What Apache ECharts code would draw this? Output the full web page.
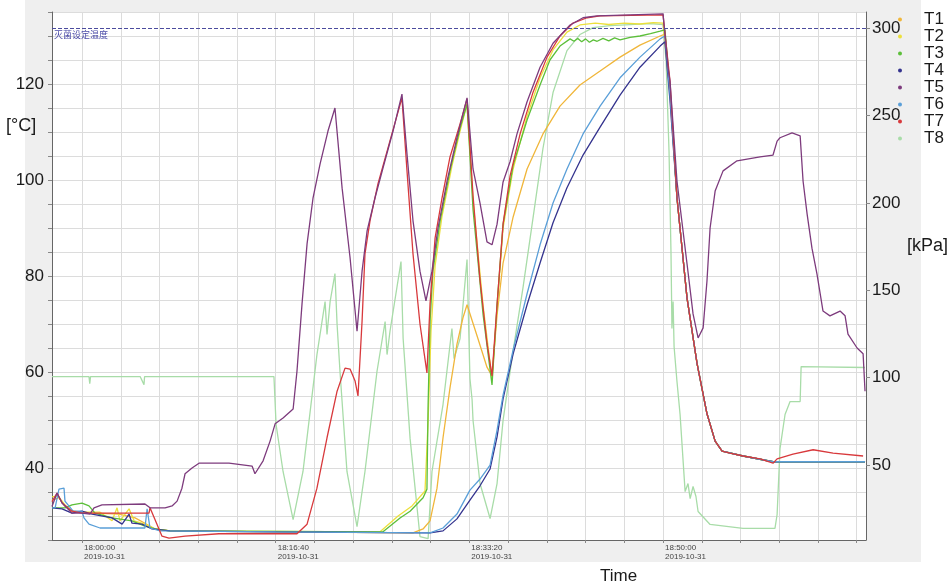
<!DOCTYPE html>
<html><head><meta charset="utf-8">
<script src="https://cdn.jsdelivr.net/npm/echarts@6/dist/echarts.min.js"></script>
<style>html,body{margin:0;padding:0;background:#fff}#c{width:950px;height:586px}</style>
</head><body><div id="c"></div>
<script>
// time in seconds after 18:00:00 on 2019-10-31
const seriesNames = ['T1','T2','T3','T4','T5','T6','T7','T8'];
const setpointTemp = 131.7;
const setpointLabel = '灭菌设定温度';
const dateLabel = '2019-10-31';

const T1 = [[-155,33.3],[-119,33.8],[-88,32.0],[-52,31.0],[0,30.8],[67,30.6],[191,30.4],[274,29.6],[325,28.5],[377,27.3],[454,26.9],[1000,26.7],[1709,26.5],[1761,27.3],[1797,29.0],[1833,35.8],[1864,46.3],[1900,56.7],[1936,65.8],[1967,71.3],[1988,74.0],[2040,67.5],[2091,61.0],[2117,59.2],[2143,71.9],[2174,82.7],[2226,92.3],[2298,102.3],[2380,109.6],[2468,115.4],[2571,119.8],[2675,122.7],[2778,125.6],[2881,128.1],[2985,130.0],[3010,130.4],[3036,118.5],[3072,96.3],[3124,75.4],[3176,61.7],[3227,51.3],[3269,45.6],[3305,43.5],[3413,42.5],[3568,41.3],[4043,41.3]];
const T2 = [[-155,34.0],[-124,34.2],[-88,32.3],[-52,31.0],[0,30.8],[93,30.8],[155,29.0],[181,31.7],[196,29.0],[243,31.5],[269,29.0],[325,28.3],[377,27.3],[454,26.9],[1539,26.7],[1632,30.0],[1704,32.1],[1771,35.2],[1787,49.8],[1802,68.5],[1823,82.1],[1859,92.5],[1910,102.9],[1952,110.2],[1988,115.8],[2019,95.6],[2071,73.8],[2117,58.5],[2143,73.3],[2174,90.0],[2226,102.3],[2298,113.3],[2365,121.3],[2432,127.1],[2504,130.8],[2571,132.3],[2650,132.7],[2720,132.4],[2800,132.7],[2880,132.5],[2950,132.8],[3000,132.7],[3010,132.6],[3036,119.0],[3072,96.3],[3124,75.4],[3176,61.7],[3227,51.3],[3269,45.6],[3305,43.5],[3413,42.5],[3568,41.3],[4043,41.3]];
const T3 = [[-155,31.7],[-88,31.7],[-52,32.3],[0,32.7],[36,32.1],[67,30.6],[155,29.6],[258,29.0],[325,27.9],[377,27.3],[454,26.9],[1554,26.7],[1642,29.6],[1694,31.0],[1761,33.8],[1781,35.6],[1787,53.3],[1797,70.6],[1812,81.0],[1849,91.5],[1900,101.9],[1952,110.8],[1988,115.8],[2019,93.8],[2071,71.9],[2117,57.3],[2143,74.0],[2174,90.8],[2226,103.1],[2298,112.5],[2365,119.8],[2416,125.0],[2468,127.9],[2520,129.4],[2540,128.9],[2560,129.5],[2580,128.8],[2600,129.4],[2620,128.7],[2640,129.2],[2660,128.9],[2690,129.5],[2720,129.0],[2750,129.6],[2778,129.2],[2830,129.7],[2881,130.0],[2935,130.5],[2985,131.0],[3010,131.3],[3036,119.0],[3072,96.3],[3124,75.4],[3176,61.7],[3227,51.3],[3269,45.6],[3305,43.5],[3413,42.5],[3568,41.3],[4043,41.3]];
const T4 = [[-155,31.7],[-103,31.5],[-52,30.6],[0,31.0],[52,30.4],[155,29.6],[207,28.3],[243,30.4],[258,28.5],[310,28.3],[361,27.3],[454,26.9],[1000,26.7],[1797,26.5],[1864,26.9],[1936,29.4],[2003,33.3],[2055,36.3],[2107,39.8],[2143,46.5],[2174,54.4],[2226,63.8],[2298,74.0],[2365,82.7],[2432,91.1],[2504,98.4],[2587,105.2],[2675,111.0],[2778,117.7],[2881,123.5],[2985,127.9],[3010,128.8],[3036,116.5],[3072,96.3],[3124,75.4],[3176,61.7],[3227,51.3],[3269,45.6],[3305,43.5],[3413,42.5],[3568,41.3],[4043,41.3]];
const T5 = [[-155,32.0],[-129,34.8],[-103,32.7],[-52,30.6],[0,30.6],[41,30.4],[62,31.7],[103,32.3],[325,32.5],[351,31.7],[429,31.7],[465,32.1],[491,33.1],[516,35.8],[532,38.8],[568,40.0],[604,41.0],[759,41.0],[878,40.4],[893,38.8],[935,41.5],[971,45.6],[997,49.2],[1038,50.4],[1090,52.3],[1110,60.2],[1136,74.2],[1162,86.7],[1193,96.3],[1229,103.3],[1270,110.2],[1306,115.0],[1343,98.3],[1384,83.8],[1420,68.5],[1446,81.0],[1472,89.4],[1513,96.3],[1554,102.5],[1606,110.2],[1652,117.9],[1678,105.4],[1709,91.5],[1745,81.0],[1776,74.8],[1807,81.0],[1838,90.0],[1885,99.8],[1936,108.8],[1988,117.1],[2019,102.3],[2055,95.2],[2091,87.1],[2117,86.5],[2143,90.8],[2174,99.6],[2210,103.8],[2246,109.6],[2298,116.3],[2365,123.5],[2432,128.5],[2520,132.3],[2587,133.8],[2659,134.2],[2830,134.4],[3000,134.6],[3010,134.6],[3026,123.3],[3036,120.6],[3072,99.8],[3124,82.5],[3155,72.1],[3181,67.1],[3207,69.2],[3227,79.0],[3243,90.0],[3269,97.7],[3310,101.9],[3382,104.0],[3501,104.8],[3568,105.2],[3589,108.1],[3604,108.8],[3666,109.8],[3708,109.2],[3723,99.8],[3744,92.9],[3769,85.8],[3795,80.4],[3826,72.7],[3862,71.7],[3914,72.7],[3940,71.7],[3955,67.9],[4002,65.0],[4033,63.8],[4043,56.0]];
const T6 = [[-155,31.7],[-139,31.7],[-119,35.6],[-93,35.8],[-88,33.1],[-46,31.0],[0,31.0],[10,29.6],[36,28.3],[93,27.5],[325,27.5],[336,31.5],[351,27.5],[403,26.9],[1000,26.7],[1797,26.5],[1864,27.5],[1936,30.4],[2003,35.4],[2055,37.7],[2107,40.6],[2143,47.9],[2174,55.2],[2226,64.6],[2298,76.3],[2365,86.5],[2432,95.2],[2504,102.3],[2587,109.6],[2675,115.4],[2778,121.3],[2881,125.6],[2985,129.4],[3010,130.0],[3036,118.0],[3072,96.3],[3124,75.4],[3176,61.7],[3227,51.3],[3269,45.6],[3305,43.5],[3413,42.5],[3568,41.3],[4043,41.3]];
const T7 = [[-155,33.0],[-129,34.8],[-103,32.7],[-52,31.0],[0,30.6],[346,30.6],[351,31.7],[361,31.5],[387,28.3],[413,25.8],[449,25.4],[532,25.8],[707,26.3],[1110,26.3],[1162,28.3],[1213,35.8],[1265,46.3],[1317,56.0],[1358,60.8],[1384,60.6],[1410,58.1],[1425,55.0],[1446,70.6],[1461,84.6],[1487,91.5],[1528,99.2],[1580,106.7],[1652,117.1],[1678,101.9],[1709,84.6],[1745,70.0],[1781,59.8],[1797,74.2],[1823,87.9],[1859,96.3],[1900,104.8],[1952,111.7],[1988,116.9],[2019,96.7],[2055,79.2],[2091,66.0],[2117,59.2],[2143,74.0],[2174,90.8],[2210,100.8],[2262,109.6],[2329,118.3],[2401,125.6],[2468,130.0],[2535,132.7],[2608,133.8],[2675,134.2],[3000,134.4],[3010,134.4],[3036,120.6],[3072,96.3],[3124,75.4],[3176,61.7],[3227,51.3],[3269,45.6],[3305,43.5],[3346,43.1],[3413,42.5],[3501,41.9],[3568,41.0],[3589,41.9],[3671,42.9],[3775,43.8],[3878,43.1],[4033,42.5]];
// T8 pressure, kPa (right axis)
const T8 = [[-155,100.6],[-60,100.6],[36,100.6],[40,96.5],[44,100.6],[150,100.6],[300,100.6],[320,96.0],[323,100.6],[500,100.6],[700,100.6],[900,100.6],[991,100.6],[1002,73.2],[1038,46.3],[1090,18.8],[1141,46.3],[1213,113.2],[1255,143.5],[1265,124.7],[1281,143.5],[1306,159.5],[1317,130.4],[1332,103.5],[1368,46.3],[1420,14.8],[1461,46.3],[1523,103.5],[1565,132.1],[1575,113.2],[1590,126.4],[1647,166.4],[1658,122.4],[1694,65.1],[1745,9.1],[1787,7.9],[1807,46.3],[1864,84.6],[1910,128.1],[1921,110.9],[1952,122.4],[1988,167.6],[2003,99.5],[2014,87.5],[2019,75.5],[2055,39.4],[2107,19.4],[2143,39.4],[2174,75.5],[2226,115.5],[2277,151.5],[2329,191.6],[2380,231.1],[2432,263.1],[2504,287.1],[2571,296.3],[2639,300.3],[2726,301.4],[2830,302.0],[2933,302.6],[3000,302.0],[3016,280.8],[3031,229.3],[3041,172.1],[3046,128.1],[3052,143.5],[3057,117.8],[3072,97.8],[3088,78.9],[3114,34.8],[3129,39.4],[3140,30.8],[3155,37.7],[3170,32.0],[3181,23.4],[3243,16.0],[3413,13.7],[3578,13.7],[3589,21.7],[3604,59.4],[3630,78.9],[3656,86.3],[3708,86.3],[3713,106.3],[4043,105.8]];

const seriesData = [T1,T2,T3,T4,T5,T6,T7,T8];
const colors = ['#f0b63a','#ece03c','#5cbf3a','#34338e','#7d3b7d','#5a9fd8','#d8393c','#a8dca8'];

function fmt(s){
  const tot = 18*3600 + s;
  const h = Math.floor(tot/3600), m = Math.floor((tot%3600)/60), sec = tot%60;
  const p = n => String(n).padStart(2,'0');
  return p(h)+':'+p(m)+':'+p(sec);
}

const chart = echarts.init(document.getElementById('c'), null, {renderer:'canvas'});
const series = seriesNames.map((n,i)=>({
  name:n, type:'line', data:seriesData[i], showSymbol:false, symbol:'circle',
  yAxisIndex: n==='T8'?1:0, z: n==='T8'?1:(n==='T5'?4:3),
  lineStyle:{width:1.3, color:colors[i]}, itemStyle:{color:colors[i]},
  animation:false,
  markLine: n==='T1' ? {
    silent:true, symbol:'none',
    lineStyle:{color:'#4b4b9e', type:[4,2], width:1},
    label:{show:true, position:'insideStartBottom', formatter:setpointLabel, color:'#4b4ba8', fontSize:9, fontFamily:'Noto Sans CJK SC', distance:[2,2]},
    data:[{yAxis:setpointTemp}]
  } : undefined
}));

chart.setOption({
  animation:false,
  backgroundColor:'#ffffff',
  graphic:[
    {type:'rect', z:-100, silent:true, shape:{x:25,y:0,width:896,height:562}, style:{fill:'#efefef'}},
    {type:'text', left:6, top:117, style:{text:'[°C]', fontSize:18, fill:'#1a1a1a', fontFamily:'Liberation Sans'}},
    {type:'text', left:907, top:237, style:{text:'[kPa]', fontSize:18, fill:'#1a1a1a', fontFamily:'Liberation Sans'}},
    {type:'text', left:600, top:568, style:{text:'Time', fontSize:17, fill:'#1a1a1a', fontFamily:'Liberation Sans'}}
  ],
  legend:{
    orient:'vertical', left:893, top:6, itemWidth:30, itemHeight:4, itemGap:0, icon:'circle',
    data:seriesNames,
    textStyle:{fontSize:17, color:'#1a1a1a', fontFamily:'Liberation Sans', lineHeight:15, padding:[0,0,0,4]}
  },
  grid:{left:52, right:84, top:12, bottom:46, show:true, backgroundColor:'#ffffff', borderWidth:0},
  xAxis:{
    type:'value', min:-155, max:4048, splitNumber:21,
    axisLine:{show:true, onZero:false, lineStyle:{color:'#666', width:1}},
    axisTick:{show:true, length:3, lineStyle:{color:'#888'}},
    splitLine:{show:true, lineStyle:{color:'#dcdcdc', width:1}},
    axisLabel:{interval:0, showMinLabel:false, showMaxLabel:false, align:'left', margin:3, fontSize:8, lineHeight:9, color:'#444', fontFamily:'Liberation Sans', padding:[0,0,0,2],
      formatter:v => (v%1000===0 && v>=0 && v<=3000) ? fmt(v)+'\n'+dateLabel : ''}
  },
  yAxis:[
    {type:'value', min:25, max:135, interval:5, position:'left',
      axisLine:{show:true, onZero:false, lineStyle:{color:'#666'}},
      axisTick:{show:true, length:4, lineStyle:{color:'#888'}},
      splitLine:{show:true, lineStyle:{color:'#dcdcdc'}},
      axisLabel:{interval:0, margin:8, fontSize:17, color:'#1a1a1a', fontFamily:'Liberation Sans',
        formatter:v => ([40,60,80,100,120].includes(v) ? String(v) : '')}
    },
    {type:'value', min:7.1, max:309.2, splitNumber:6, position:'right',
      axisLine:{show:true, onZero:false, lineStyle:{color:'#666'}},
      axisTick:{show:true, length:4, lineStyle:{color:'#888'}},
      splitLine:{show:false},
      axisLabel:{interval:0, margin:6, fontSize:17, color:'#1a1a1a', fontFamily:'Liberation Sans',
        showMinLabel:false, showMaxLabel:false,
        formatter:v => (v%50===0 ? String(v) : '')}
    }
  ],
  series: series
});
</script></body></html>
